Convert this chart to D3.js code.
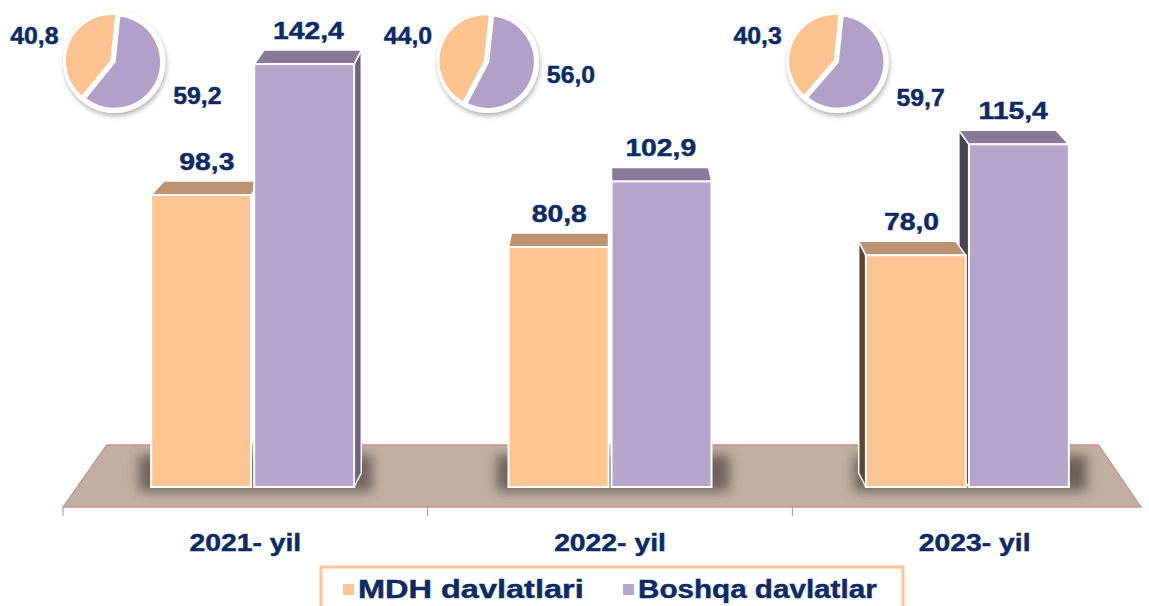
<!DOCTYPE html>
<html>
<head>
<meta charset="utf-8">
<script src="https://cdn.jsdelivr.net/npm/d3@7"></script>
<style>
body{margin:0;background:#fff;overflow:hidden;}
text{font-family:"Liberation Sans",Arial,sans-serif;font-weight:bold;fill:#0c2a66;stroke:#0c2a66;stroke-width:0.45px;}
</style>
</head>
<body>
<div id="canvas"></div>
<script>
// data
var years = ['2021- yil', '2022- yil', '2023- yil'];
var series = ['MDH davlatlari', 'Boshqa davlatlar'];
var mdh = [98.3, 80.8, 78.0];
var boshqa = [142.4, 102.9, 115.4];
var mdhShare = [40.8, 44.0, 40.3];
var boshqaShare = [59.2, 56.0, 59.7];

var W = 1149, H = 606;
var colors = {
    front: ['#fec492', '#b6a6cc'],
    top: ['#bd9270', '#877a98'],
    side: ['#5e4630', '#4a4252'],
    sideR: ['#8a6d55', '#6e6380'],
    pie: ['#fbc390', '#b1a0c8']
};
var fmt = function(v){ return d3.format('.1f')(v).replace('.', ','); };
var sx = 1.18; // text is a bit wide in the original
var pieDx = [-131, -122, -137]; // pie offsets from the year centre
var pieLabY = [42, 21, 44];

var svg = d3.select('#canvas').append('svg')
    .attr('width', W).attr('height', H);

var defs = svg.append('defs');
defs.append('filter').attr('id', 'blur')
    .attr('x', '-50%').attr('y', '-50%').attr('width', '200%').attr('height', '200%')
    .append('feGaussianBlur').attr('stdDeviation', 6);
defs.append('filter').attr('id', 'pieShadow')
    .attr('x', '-30%').attr('y', '-30%').attr('width', '160%').attr('height', '160%')
    .append('feDropShadow').attr('dx', 1).attr('dy', 3)
    .attr('stdDeviation', 2.5).attr('flood-color', '#000').attr('flood-opacity', 0.3);

// scales
var x = d3.scaleBand().domain(years).range([63, 1157]);
var xs = d3.scaleBand().domain(series).range([-101.5, 101.5]).paddingInner(0.03);
var y = d3.scaleLinear().domain([0, 150]).range([487, 487 - 150 * 2.97]);

// perspective helpers
var vx = 610, k = -0.028, dep = -14;
var center = function(i){
    var c = x(years[i]) + x.bandwidth() / 2;
    return vx + (c - vx) * 0.98;
};
var back = function(px){ return px + (px - vx) * k; };

// floor
var fy0 = 507, fy1 = 445, fxl = 63, fxr = 1141;
var fb = function(px){ return vx + (px - vx) * 0.92; };
svg.append('polygon')
    .attr('points', [[fxl, fy0], [fb(fxl), fy1], [fb(fxr), fy1], [fxr, fy0]].join(' '))
    .style('fill', '#bfb0a3')
    .style('stroke', '#cf8f8f')
    .style('stroke-width', 1.3);

// ticks between categories
years.forEach(function(d){
    svg.append('line')
        .attr('x1', x(d)).attr('x2', x(d))
        .attr('y1', fy0).attr('y2', fy0 + 9)
        .style('stroke', '#9a9a9a').style('stroke-width', 1);
});

// category labels
years.forEach(function(d, i){
    svg.append('text')
        .attr('transform', 'translate(' + (x(d) + x.bandwidth() / 2) + ',551) scale(' + sx + ',1)')
        .attr('text-anchor', 'middle')
        .style('font-size', '24px')
        .text(d);
});

// shadows on the floor
years.forEach(function(d, i){
    var c = center(i);
    svg.append('rect')
        .attr('x', c + xs(series[0]) - 12)
        .attr('y', 455)
        .attr('width', 203 + 30)
        .attr('height', 36)
        .style('fill', '#54473f')
        .style('opacity', 0.75)
        .attr('filter', 'url(#blur)');
});

// bars as boxes
function drawBox(g, x0, x1, yt, yb, s, sideMode){
    if(sideMode === 'left'){
        g.append('polygon')
            .attr('points', [[x0, yt], [back(x0), yt + dep], [back(x0), yb + dep], [x0, yb]].join(' '))
            .style('fill', colors.side[s]).style('stroke', '#fff').style('stroke-width', 1.5)
            .style('stroke-linejoin', 'round');
    }
    if(sideMode === 'right'){
        g.append('polygon')
            .attr('points', [[x1, yt], [back(x1), yt + dep], [back(x1), yb + dep], [x1, yb]].join(' '))
            .style('fill', colors.sideR[s]).style('stroke', '#fff').style('stroke-width', 1.5)
            .style('stroke-linejoin', 'round');
    }
    g.append('polygon')
        .attr('points', [[x0, yt], [x1, yt], [back(x1), yt + dep], [back(x0), yt + dep]].join(' '))
        .style('fill', colors.top[s]).style('stroke', '#fff').style('stroke-width', 1.5)
        .style('stroke-linejoin', 'round');
    g.append('rect')
        .attr('x', x0).attr('y', yt)
        .attr('width', x1 - x0).attr('height', yb - yt)
        .style('fill', colors.front[s]).style('stroke', '#fff').style('stroke-width', 2);
}

var bars = svg.append('g');
var vals = [mdh, boshqa];
years.forEach(function(d, i){
    var c = center(i);
    var order = c < vx - 1 ? [0, 1] : [1, 0];
    var g = bars.append('g');
    order.forEach(function(s){
        var x0 = c + xs(series[s]);
        var x1 = x0 + xs.bandwidth();
        var mode = 'none';
        if(c < vx - 1 && s === 1) mode = 'right';
        if(c > vx + 1) mode = 'left';
        drawBox(g, x0, x1, y(vals[s][i]), y(0), s, mode);
    });
    series.forEach(function(sr, s){
        var x0 = c + xs(sr);
        var mid = x0 + xs.bandwidth() / 2;
        var off = (back(mid) - mid) * 0.5;
        svg.append('text')
            .attr('transform', 'translate(' + (mid + off) + ',' + (y(vals[s][i]) + dep - 11) + ') scale(' + sx + ',1)')
            .attr('text-anchor', 'middle')
            .style('font-size', '24px')
            .text(fmt(vals[s][i]));
    });
});

// small pies above each year
var rot = 6 * Math.PI / 180;
var pie = d3.pie().sort(null).startAngle(rot).endAngle(rot + 2 * Math.PI);
var arc = d3.arc().innerRadius(0).outerRadius(47);
years.forEach(function(d, i){
    var c = x(d) + x.bandwidth() / 2;
    var pcx = c + pieDx[i], pcy = 62;
    var pg = svg.append('g').attr('transform', 'translate(' + pcx + ',' + pcy + ')');
    pg.append('circle').attr('r', 51).style('fill', '#fff').attr('filter', 'url(#pieShadow)');
    // purple first, orange after so orange sits on the upper left
    var arcs = pie([boshqaShare[i], mdhShare[i]]);
    arcs.forEach(function(a, j){
        var s = j === 0 ? 1 : 0;
        var shift = [0, 0];
        if(s === 0){
            var m = (a.startAngle + a.endAngle) / 2;
            shift = [Math.sin(m) * 3, -Math.cos(m) * 3];
        }
        pg.append('path')
            .attr('d', arc(a))
            .attr('transform', 'translate(' + shift + ')')
            .style('fill', colors.pie[s])
            .style('stroke', '#fff')
            .style('stroke-width', 2.5)
            .style('stroke-linejoin', 'round');
    });
    pg.append('text')
        .attr('transform', 'translate(-80,-18) scale(1.08,1)')
        .attr('text-anchor', 'middle')
        .style('font-size', '23px')
        .text(fmt(mdhShare[i]));
    pg.append('text')
        .attr('transform', 'translate(83,' + pieLabY[i] + ') scale(1.08,1)')
        .attr('text-anchor', 'middle')
        .style('font-size', '23px')
        .text(fmt(boshqaShare[i]));
});

// legend
var lg = svg.append('g');
lg.append('rect')
    .attr('x', 321).attr('y', 567)
    .attr('width', 582).attr('height', 60)
    .style('fill', '#fff')
    .style('stroke', '#fbc597')
    .style('stroke-width', 3);
var legX = [343, 623];
var legSx = [1.25, 1.14];
series.forEach(function(sr, s){
    lg.append('rect')
        .attr('x', legX[s]).attr('y', 584)
        .attr('width', 11).attr('height', 11)
        .style('fill', colors.front[s]);
    lg.append('text')
        .attr('transform', 'translate(' + (legX[s] + 15) + ',598) scale(' + legSx[s] + ',1)')
        .style('font-size', '26px')
        .text(sr);
});
</script>
</body>
</html>
